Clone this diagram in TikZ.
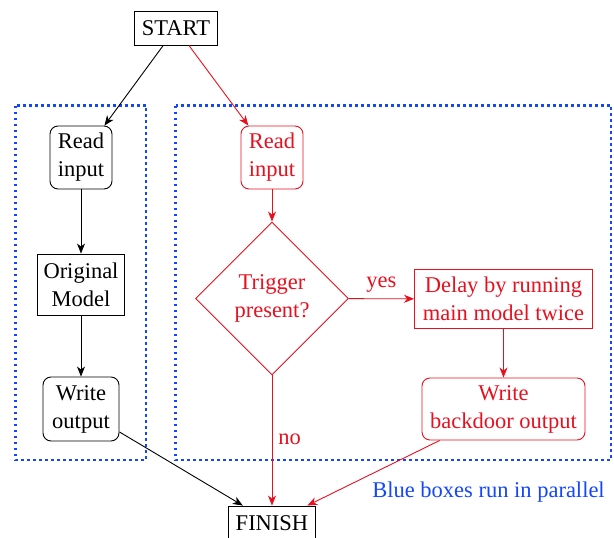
\documentclass[tikz,border=0pt]{standalone}
\usepackage{fontspec}
\setmainfont{Liberation Serif}
\usetikzlibrary{shapes.geometric,arrows.meta}
\definecolor{myred}{RGB}{232,16,30}
\definecolor{myblue}{RGB}{20,70,255}
\begin{document}
\begin{tikzpicture}[x=1pt,y=-1pt,
  font=\fontsize{22.5}{28}\selectfont,
  line width=0.9pt,
  box/.style={draw,rectangle,align=center,inner sep=0pt},
  rbox/.style={box,rounded corners=8pt},
  arr/.style={-{Stealth[length=10pt,width=8pt,inset=3pt]}},
  redc/.style={draw=myred,text=myred},
  par/.style={draw=myblue,line width=2.6pt,dash pattern=on 2.6pt off 3.4pt}
]
\useasboundingbox (0,0) rectangle (614,538);
% parallel boxes
\draw[par] (15.5,105.5) rectangle (146,460);
\draw[par] (175.5,105.5) rectangle (611,460);
% nodes
\node[box,minimum width=83pt,minimum height=34pt] (start) at (176,28) {START};
\node[rbox,minimum width=62pt,minimum height=63pt] (readL) at (81,157.5) {Read\\input};
\node[box,minimum width=87pt,minimum height=61pt] (orig) at (81,284.5) {Original\\Model};
\node[rbox,minimum width=76pt,minimum height=64pt] (writeL) at (81,409) {Write\\output};
\node[rbox,redc,minimum width=62pt,minimum height=63pt] (readR) at (272,157.5) {Read\\input};
\node[diamond,draw=myred,text=myred,align=center,inner sep=0pt,minimum width=153pt,minimum height=153pt] (trig) at (272,298.5) {Trigger\\present?};
\node[box,redc,minimum width=178pt,minimum height=59pt] (delay) at (503.5,299) {Delay by running\\main model twice};
\node[rbox,redc,minimum width=163pt,minimum height=62pt] (writeR) at (503.5,409) {Write\\backdoor output};
\node[box,minimum width=87pt,minimum height=34pt] (finish) at (272,523) {FINISH};
\node[text=myblue] (note) at (488.5,492) {Blue boxes run in parallel};
% connectors
\draw[arr] (start) -- (readL);
\draw[arr] (readL) -- (orig);
\draw[arr] (orig) -- (writeL);
\draw[arr] (writeL) -- (finish);
\draw[arr,myred] (start) -- (readR);
\draw[arr,myred] (readR) -- (trig);
\draw[arr,myred] (trig) -- node[above,text=myred,inner sep=6pt] {yes} (delay);
\draw[arr,myred] (trig) -- node[right,text=myred,pos=0.49,inner sep=6pt] {no} (finish);
\draw[arr,myred] (delay) -- (writeR);
\draw[arr,myred] (writeR) -- (finish);
\end{tikzpicture}
\end{document}
